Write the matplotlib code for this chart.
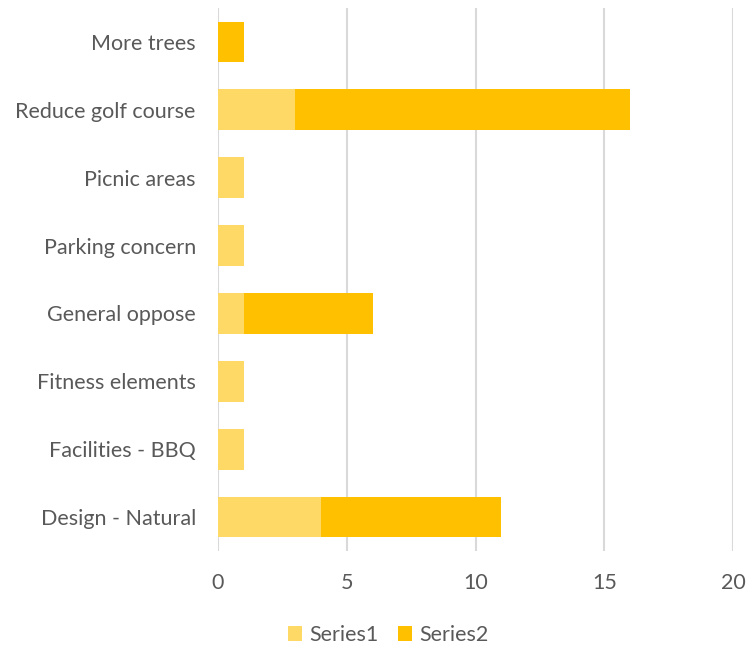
import matplotlib
matplotlib.use("Agg")
import matplotlib.pyplot as plt
import numpy as np

categories = ["Design - Natural", "Facilities - BBQ", "Fitness elements", "General oppose",
              "Parking concern", "Picnic areas", "Reduce golf course", "More trees"]
series1 = [4, 1, 1, 1, 1, 1, 3, 0]
series2 = [7, 0, 0, 5, 0, 0, 13, 1]
series_names = ["Series1", "Series2"]
colors = ["#FFD966", "#FFC000"]
xticks = [0, 5, 10, 15, 20]

plt.rcParams['font.family'] = ['Lato', 'DejaVu Sans']
text_color = "#595959"

fig = plt.figure(figsize=(7.53, 6.49), dpi=100)
ax = fig.add_axes([218/753, 1 - 551/649, (733-218)/753, (551-8)/649])

y = np.arange(len(categories))
ax.barh(y, series1, height=0.6, color=colors[0], label=series_names[0], zorder=3)
ax.barh(y, series2, left=series1, height=0.6, color=colors[1], label=series_names[1], zorder=3)

ax.set_xlim(0, 20)
ax.set_ylim(-0.5, len(categories) - 0.5)
ax.set_xticks(xticks)
ax.set_xticklabels([str(t) for t in xticks])
ax.set_yticks(y)
ax.set_yticklabels(categories)
ax.grid(axis='x', color='#D9D9D9', linewidth=1.5, zorder=0)
ax.set_axisbelow(True)
for s in ax.spines.values():
    s.set_visible(False)
ax.tick_params(axis='both', length=0, labelsize=15.5, colors=text_color)
ax.tick_params(axis='x', pad=16)
ax.tick_params(axis='y', pad=16)

leg = fig.legend(loc='center', bbox_to_anchor=(388/753, 1 - 635/649), ncol=2, frameon=False,
                 fontsize=15.5, handlelength=0.65, handleheight=0.65, handletextpad=0.35,
                 columnspacing=0.9)
for t in leg.get_texts():
    t.set_color(text_color)

fig.savefig("out.png", dpi=100)
